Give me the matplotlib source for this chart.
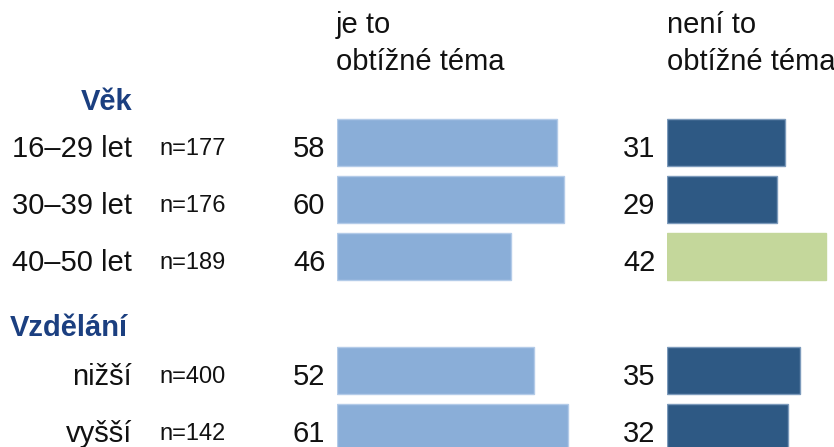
import matplotlib
matplotlib.use("Agg")
import matplotlib.pyplot as plt

# ---- data ----
categories = ["16–29 let", "30–39 let", "40–50 let", "nižší", "vyšší"]
sample_sizes = ["n=177", "n=176", "n=189", "n=400", "n=142"]
rows = [0, 1, 2, 4, 5]
group_headers = ["Věk", "Vzdělání"]
series_left_name = ["je to", "obtížné téma"]
series_right_name = ["není to", "obtížné téma"]
values_left = [58, 60, 46, 52, 61]
values_right = [31, 29, 42, 35, 32]

# ---- styling ----
W, H = 834, 447
C_LEFT = "#8aaed8"
C_LEFT_EDGE = "#b3cbe8"
C_RIGHT = "#2e5984"
C_RIGHT_EDGE = "#7c9abb"
C_HIGHLIGHT = "#c4d79b"
C_HEAD = "#1b3f80"
right_colors = [C_RIGHT, C_RIGHT, C_HIGHLIGHT, C_RIGHT, C_RIGHT]
right_edges = [C_RIGHT_EDGE, C_RIGHT_EDGE, C_HIGHLIGHT, C_RIGHT_EDGE, C_RIGHT_EDGE]

plt.rcParams["font.family"] = ["Liberation Sans", "DejaVu Sans"]

fig = plt.figure(figsize=(W / 100, H / 100), dpi=100)

PX_PER_UNIT = 3.785
ROW0 = 142.7
PITCH = 57.0
ymin = (0 - ROW0) / PITCH
ymax = (H - ROW0) / PITCH


def make_axes(x0_px, x1_px):
    ax = fig.add_axes([x0_px / W, 0, (x1_px - x0_px) / W, 1])
    ax.set_xlim(0, (x1_px - x0_px) / PX_PER_UNIT)
    ax.set_ylim(ymax, ymin)
    ax.axis("off")
    return ax


axL = make_axes(337.3, 660)
axR = make_axes(667.3, 834)

bh = 47 / PITCH
axL.barh(rows, values_left, height=bh, color=C_LEFT, edgecolor=C_LEFT_EDGE, linewidth=1)
axR.barh(rows, values_right, height=bh, color=right_colors, edgecolor=right_edges, linewidth=1)

for ax, vals in ((axL, values_left), (axR, values_right)):
    for r, v in zip(rows, vals):
        ax.annotate(str(v), xy=(0, r), xytext=(-12, -14), textcoords="offset pixels",
                    ha="right", va="baseline", fontsize=21, color="#111111")


def ftext(x, y, s, **kw):
    fig.text(x / W, 1 - y / H, s, **kw)


for r, cat, n in zip(rows, categories, sample_sizes):
    yb = ROW0 + PITCH * r + 14
    ftext(132, yb, cat, ha="right", va="baseline", fontsize=21, color="#111111")
    ftext(159, yb - 1.5, n, ha="left", va="baseline", fontsize=17, color="#111111")

ftext(132, 110, group_headers[0], ha="right", va="baseline", fontsize=21,
      fontweight="bold", color=C_HEAD)
ftext(10, 336.5, group_headers[1], ha="left", va="baseline", fontsize=21,
      fontweight="bold", color=C_HEAD)

for x, lines in ((336, series_left_name), (667, series_right_name)):
    ftext(x, 33, lines[0], ha="left", va="baseline", fontsize=21, color="#111111")
    ftext(x, 70.5, lines[1], ha="left", va="baseline", fontsize=21, color="#111111")

fig.savefig("out.png", dpi=100, facecolor="white")
